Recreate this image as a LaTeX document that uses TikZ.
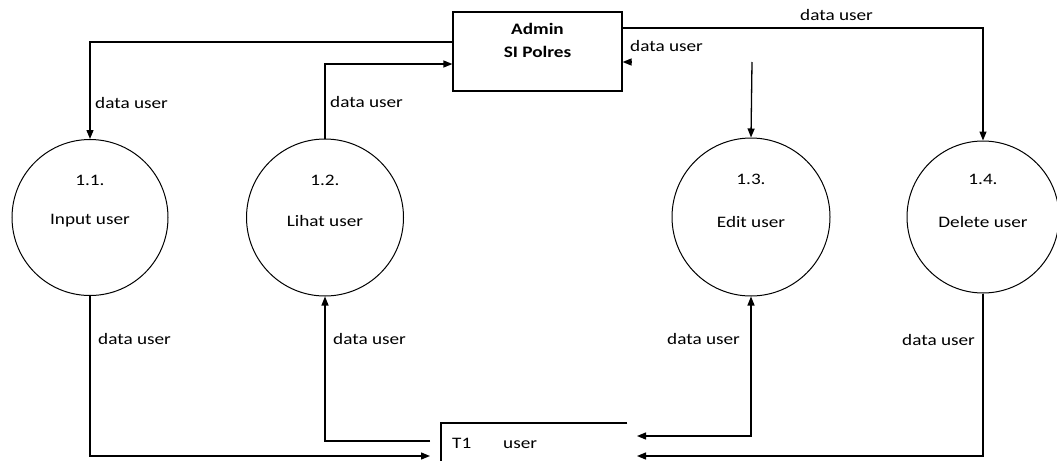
\documentclass[tikz,border=0pt]{standalone}
\usepackage{fontspec}
\setmainfont{Carlito}[FakeStretch=1.2]
\usetikzlibrary{arrows.meta}
\tikzset{
  proc/.style={draw, circle, line width=1pt, inner sep=0pt},
  box/.style={draw, rectangle, line width=1.2pt, inner sep=0pt},
  flow/.style={line width=1.3pt, -{Triangle[length=9pt,width=7pt]}},
  flowboth/.style={line width=1.3pt, {Triangle[length=9pt,width=7pt]}-{Triangle[length=9pt,width=7pt]}},
  lbl/.style={anchor=west, inner sep=0pt, font=\fontsize{16}{19}\selectfont},
  txt/.style={inner sep=0pt, font=\fontsize{16}{19}\selectfont}
}
\begin{document}
\begin{tikzpicture}[x=1pt,y=-1pt]
\useasboundingbox (0,0) rectangle (1057,461);
% external entity
\node[box, minimum width=169pt, minimum height=79pt] (admin) at (537.5,51.5) {};
\node[txt, font=\fontsize{16}{19}\selectfont\bfseries] (admint) at (537.5,29) {Admin};
\node[txt, font=\fontsize{16}{19}\selectfont\bfseries] (admint2) at (537.5,52) {SI Polres};
% processes
\node[proc, minimum size=156pt] (c1) at (90,217.5) {};
\node[proc, minimum size=157pt] (c2) at (325,217.5) {};
\node[proc, minimum size=158pt] (c3) at (751,217) {};
\node[proc, minimum size=152pt] (c4) at (983,217) {};
\node[txt] (n1) at (90,180) {1.1.};
\node[txt] (t1) at (90,221) {Input user};
\node[txt] (n2) at (325,180) {1.2.};
\node[txt] (t2) at (325,221) {Lihat user};
\node[txt] (n3) at (751,179) {1.3.};
\node[txt] (t3) at (751,222) {Edit user};
\node[txt] (n4) at (983,179) {1.4.};
\node[txt] (t4) at (983,222) {Delete user};
% data store
\node[minimum width=186pt, minimum height=38pt, inner sep=0pt, anchor=north west] (store) at (441,423) {};
\draw[line width=1.2pt] (store.north east) -- (store.north west) -- (store.south west);
\node[lbl] (s1) at (452,443) {T1};
\node[lbl] (s2) at (503,445) {user};
% coordinates
\coordinate (st1) at (430,456);
\coordinate (st2) at (430,441);
\coordinate (st3) at (637,436);
\coordinate (st4) at (637,456);
\coordinate (r1) at (631,62);
\coordinate (e1) at (752,62);
% connectors
\draw[flow] (admin.west |- 0,42) -| (c1.north);
\draw[flow] (c2.north) |- (admin.west |- 0,64);
\draw[flow] (admin.east |- 0,28) -| (c4.north);
\draw[flow] (r1) -- (admin.east |- r1);
\draw[flow] (e1) -- (c3.north);
\draw[flow] (c1.south) |- (st1);
\draw[flow] (st2) -| (c2.south);
\draw[flowboth] (st3) -| (c3.south);
\draw[flow] (c4.south) |- (st4);
% labels
\node[lbl] (l1) at (95,103) {data user};
\node[lbl] (l2) at (330,102) {data user};
\node[lbl] (l3) at (800,15) {data user};
\node[lbl] (l4) at (630,46) {data user};
\node[lbl] (l5) at (98,339) {data user};
\node[lbl] (l6) at (333,339) {data user};
\node[lbl] (l7) at (667,339) {data user};
\node[lbl] (l8) at (902,340) {data user};
\end{tikzpicture}
\end{document}
